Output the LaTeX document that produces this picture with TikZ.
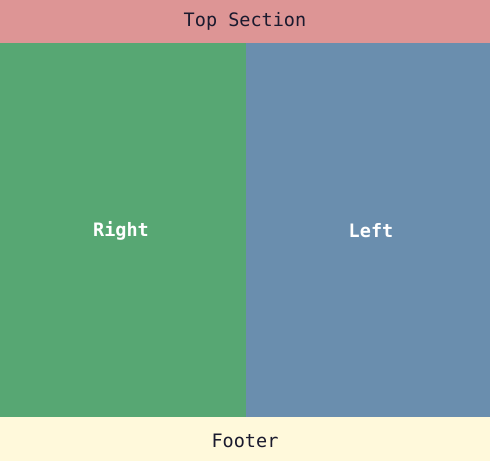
\documentclass[tikz,border=0pt]{standalone}
\usepackage{fontspec}
\setmonofont{DejaVu Sans Mono}
\definecolor{toppink}{HTML}{DD9595}
\definecolor{leftgreen}{HTML}{57A773}
\definecolor{rightblue}{HTML}{6A8EAE}
\definecolor{footyellow}{HTML}{FFF9DB}
\definecolor{darktext}{HTML}{1A1A2E}
\tikzset{
  panel/.style={draw=none, inner sep=0pt, outer sep=0pt},
  darklabel/.style={font=\ttfamily\fontsize{18.5}{22}\selectfont, text=darktext},
  lightlabel/.style={font=\ttfamily\bfseries\fontsize{18.5}{22}\selectfont, text=white}
}
\begin{document}
\begin{tikzpicture}[x=1pt,y=-1pt]
\useasboundingbox (0,0) rectangle (490,461);
\fill[toppink] (0,0) rectangle (490,43);
\fill[leftgreen] (0,43) rectangle (246,417);
\fill[rightblue] (246,43) rectangle (490,417);
\fill[footyellow] (0,417) rectangle (490,461);
\node[darklabel] (top) at (245,21) {Top Section};
\node[lightlabel] (right) at (121,231) {Right};
\node[lightlabel] (left) at (371,231) {Left};
\node[darklabel] (foot) at (245,441) {Footer};
\end{tikzpicture}
\end{document}
